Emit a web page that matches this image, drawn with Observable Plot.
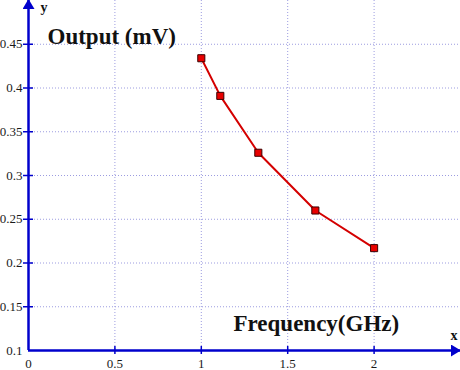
<!DOCTYPE html>
<html><head><meta charset="utf-8">
<script src="https://cdn.jsdelivr.net/npm/d3@7"></script>
<script src="https://cdn.jsdelivr.net/npm/@observablehq/plot@0.6"></script>
<style>
body{margin:0;background:#fff}
svg text{font-family:'Liberation Serif','Times New Roman',serif !important;}
</style>
</head><body><div id="chart"></div>
<script>
const frequency = [1, 1.11, 1.33, 1.66, 2];
const output = [0.434, 0.391, 0.326, 0.260, 0.217];
const xTicks = [0, 0.5, 1, 1.5, 2];
const yTicks = [0.1, 0.15, 0.2, 0.25, 0.3, 0.35, 0.4, 0.45];
const xDomain = [0, 2.5];
const yDomain = [0.1, 0.5];
const yTitle = "Output (mV)";
const xTitle = "Frequency(GHz)";

const data = frequency.map((f, i) => ({f, v: output[i]}));
const axisBlue = "#0000cc";
const gridColor = "#9c9ce0";
const serif = "'Liberation Serif', 'Times New Roman', serif";

const chart = Plot.plot({
  width: 460, height: 370,
  marginLeft: 28, marginRight: 0, marginTop: 0, marginBottom: 20,
  style: {fontFamily: serif, fontSize: "13px", background: "white", color: "#1a1a1a"},
  x: {domain: xDomain, ticks: xTicks, tickSize: 0, tickPadding: 8, label: null, tickFormat: d => String(d)},
  y: {domain: yDomain, ticks: yTicks, tickSize: 0, tickPadding: 6, label: null, tickFormat: d => String(d)},
  marks: [
    Plot.ruleX(xTicks.filter(d => d > xDomain[0]), {stroke: gridColor, strokeDasharray: "1,2", strokeWidth: 1}),
    Plot.ruleY(yTicks.filter(d => d > yDomain[0]), {stroke: gridColor, strokeDasharray: "1,2", strokeWidth: 1}),
    Plot.ruleX(xTicks.filter(d => d > xDomain[0]), {y1: yDomain[0], y2: yDomain[0], insetTop: 4, insetBottom: 4, stroke: axisBlue, strokeWidth: 1.5}),
    Plot.ruleY(yTicks.filter(d => d > yDomain[0]), {x1: xDomain[0], x2: xDomain[0], insetLeft: 5, insetRight: 5, stroke: axisBlue, strokeWidth: 1.5}),
    Plot.ruleY([yDomain[0]], {x1: xDomain[0], x2: xDomain[1], stroke: axisBlue, strokeWidth: 2.5, ariaDescription: "axisline"}),
    Plot.ruleX([xDomain[0]], {y1: yDomain[0], y2: yDomain[1], stroke: axisBlue, strokeWidth: 2.5, ariaDescription: "axisline"}),
    Plot.line(data, {x: "f", y: "v", stroke: "#d40000", strokeWidth: 2}),
    Plot.dot(data, {x: "f", y: "v", symbol: "square", r: 4, fill: "#e80000", stroke: "#3a0000", strokeWidth: 1}),
    Plot.text([yTitle], {text: d => d, frameAnchor: "top-left", dx: 19, dy: 27, fontSize: 23, fontWeight: "bold", fill: "#111", ariaDescription: "title"}),
    Plot.text([xTitle], {text: d => d, frameAnchor: "top-left", dx: 205, dy: 314, fontSize: 23, fontWeight: "bold", fill: "#111", ariaDescription: "title"}),
    Plot.text(["y"], {text: d => d, frameAnchor: "top-left", dx: 12, dy: 2, fontSize: 14, fontWeight: "bold", fill: "#111", ariaDescription: "title"}),
    Plot.text(["x"], {text: d => d, frameAnchor: "top-left", dx: 422, dy: 330, fontSize: 14, fontWeight: "bold", fill: "#111", ariaDescription: "title"})
  ]
});

const svg = d3.select(chart);
svg.selectAll("text").style("font-family", serif);
svg.selectAll("g").filter(function() { return !this.hasAttribute("aria-description"); })
  .selectAll(":scope > text").style("font-size", "13px").attr("fill", "#1a1a1a");
const defs = svg.insert("defs", ":first-child");
defs.append("marker")
  .attr("id", "axisArrow")
  .attr("viewBox", "0 0 10 12")
  .attr("refX", 9).attr("refY", 6)
  .attr("markerUnits", "userSpaceOnUse")
  .attr("markerWidth", 10).attr("markerHeight", 12)
  .attr("orient", "auto")
  .append("path").attr("d", "M0,0L10,6L0,12Z").attr("fill", axisBlue);
svg.selectAll('g[aria-description="axisline"] line').attr("marker-end", "url(#axisArrow)");
document.getElementById("chart").appendChild(chart);
</script>
</body></html>
